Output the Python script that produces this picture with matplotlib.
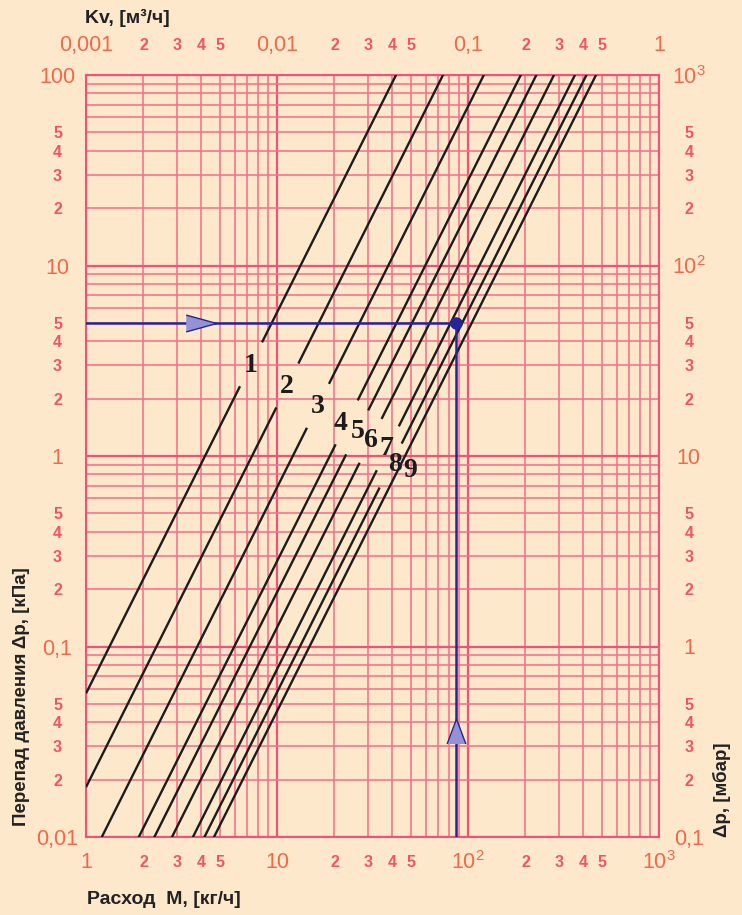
import numpy as np
import matplotlib
matplotlib.use("Agg")
import matplotlib.pyplot as plt

plt.rcParams['font.family'] = ['Liberation Sans', 'DejaVu Sans']
plt.rcParams['mathtext.fontset'] = 'custom'
plt.rcParams['mathtext.rm'] = 'Liberation Sans'
plt.rcParams['mathtext.it'] = 'Liberation Sans:italic'
plt.rcParams['mathtext.bf'] = 'Liberation Sans:bold'

# ---------------- data ----------------
curve_names = ['1', '2', '3', '4', '5', '6', '7', '8', '9']
curve_kv = [0.042, 0.074, 0.121, 0.189, 0.228, 0.282, 0.363, 0.417, 0.468]   # m3/h
label_dp = [3.0, 2.33, 1.83, 1.49, 1.34, 1.20, 1.09, 0.90, 0.84]             # kPa at label
label_mshift = [1.0, 1.0, 1.0, 0.93, 1.0, 1.0, 0.99, 1.05, 1.16]
curve_gap = [True, True, True, True, True, True, True, True, False]

example_m = 87.0      # kg/h
example_dp = 5.0      # kPa
arrow_h_m = 4.0
arrow_v_dp = 0.036

x_major = [1, 10, 100, 1000]
x_major_labels = ['1', '10', r'$\mathregular{10^{2}}$', r'$\mathregular{10^{3}}$']
kv_major = [0.001, 0.01, 0.1, 1]
kv_major_labels = ['0,001', '0,01', '0,1', '1']
y_major = [0.01, 0.1, 1, 10, 100]
y_major_labels = ['0,01', '0,1', '1', '10', '100']
mbar_major = [0.1, 1, 10, 100, 1000]
mbar_major_labels = ['0,1', '1', '10', r'$\mathregular{10^{2}}$', r'$\mathregular{10^{3}}$']
minor_digits = [2, 3, 4, 5, 6, 7, 8, 9]
minor_labels = ['2', '3', '4', '5', '', '', '', '']

# ---------------- style ----------------
BG = '#fde8cb'
GRID_MAJ = '#ee5475'
GRID_MIN = '#f2728a'
LBL_MAJ = '#f2694a'
LBL_MIN = '#ee5566'
BLUE = '#25259a'
TXT = '#222222'

fig = plt.figure(figsize=(7.42, 9.15), dpi=100, facecolor=BG)
ax = fig.add_axes([86/742, 78/915, 573/742, 762/915])
ax.set_facecolor(BG)
ax.set_xscale('log')
ax.set_yscale('log')
ax.set_xlim(1, 1000)
ax.set_ylim(0.01, 100)


def minors(decades):
    vals, labs = [], []
    for d in decades:
        for k, l in zip(minor_digits, minor_labels):
            vals.append(k * d)
            labs.append(l)
    return vals, labs


xmin_v, xmin_l = minors([1, 10, 100])
ymin_v, ymin_l = minors([0.01, 0.1, 1, 10])
kvmin_v, kvmin_l = minors([0.001, 0.01, 0.1])
mbmin_v, mbmin_l = minors([0.1, 1, 10, 100])

# grid
for v in x_major:
    ax.axvline(v, color=GRID_MAJ, lw=1.6, zorder=1)
for v in xmin_v:
    ax.axvline(v, color=GRID_MIN, lw=1.15, zorder=1)
for v in y_major:
    ax.axhline(v, color=GRID_MAJ, lw=1.6, zorder=1)
for v in ymin_v:
    ax.axhline(v, color=GRID_MIN, lw=1.15, zorder=1)

for s in ax.spines.values():
    s.set_color(GRID_MAJ)
    s.set_linewidth(1.5)

# curves: dp[kPa] = 100 * (Q/Kv)^2, Q = M/1000
M = np.logspace(0, 3, 600)
for name, kv, ldp, sh, gap in zip(curve_names, curve_kv, label_dp, label_mshift, curve_gap):
    dp = 100.0 * (M / 1000.0 / kv) ** 2
    if gap:
        g = 10 ** 0.11
        mask_lo = dp <= ldp / g
        mask_hi = dp >= ldp * g
        ax.plot(M[mask_lo], dp[mask_lo], color='#1c1c1c', lw=1.7, zorder=3, solid_capstyle='butt')
        ax.plot(M[mask_hi], dp[mask_hi], color='#1c1c1c', lw=1.7, zorder=3, solid_capstyle='butt')
    else:
        ax.plot(M, dp, color='#1c1c1c', lw=1.7, zorder=3)
    m_lab = 1000.0 * kv * np.sqrt(ldp / 100.0) * sh
    ax.text(m_lab, ldp, name, ha='center', va='center', fontsize=20, fontweight='bold',
            family=['Liberation Serif', 'DejaVu Serif'], color='#1c1c1c', zorder=4)

# example lines
ax.plot([1, example_m], [example_dp, example_dp], color=BLUE, lw=1.8, zorder=5)
ax.plot([example_m, example_m], [0.01, example_dp], color=BLUE, lw=1.8, zorder=5)
ax.plot([example_m], [example_dp], 'o', color=BLUE, ms=8, zorder=6)
tri_r = [(-1, -0.55), (1, 0), (-1, 0.55)]
tri_u = [(-0.75, -1), (0, 1), (0.75, -1)]
ax.plot([arrow_h_m], [example_dp], marker=tri_r, ms=22, mfc='#9393d4', mec=BLUE, mew=1.0, ls='none', zorder=7)
ax.plot([example_m], [arrow_v_dp], marker=tri_u, ms=18, mfc='#9393d4', mec=BLUE, mew=1.0, ls='none', zorder=7)

# bottom axis ticks
ax.set_xticks(x_major, labels=x_major_labels)
ax.set_xticks(xmin_v, labels=xmin_l, minor=True)
ax.tick_params(axis='x', which='both', length=0, pad=18.5)
ax.tick_params(axis='x', which='major', labelsize=15.5, labelcolor=LBL_MAJ)
ax.tick_params(axis='x', which='minor', labelsize=11.5, labelcolor=LBL_MIN)
for t in ax.get_xticklabels(minor=True):
    t.set_fontweight('bold')
for t in ax.get_xticklabels(which='both'):
    t.set_va('center')

# left axis ticks
ax.set_yticks(y_major, labels=y_major_labels)
ax.set_yticks(ymin_v, labels=ymin_l, minor=True)
ax.tick_params(axis='y', which='both', length=0, pad=20.5)
ax.tick_params(axis='y', which='major', labelsize=15.5, labelcolor=LBL_MAJ)
ax.tick_params(axis='y', which='minor', labelsize=11.5, labelcolor=LBL_MIN)
for t in ax.get_yticklabels(minor=True):
    t.set_fontweight('bold')
for t in ax.get_yticklabels(which='both'):
    t.set_ha('center')

# top axis (Kv)
axt = ax.twiny()
axt.set_xscale('log')
axt.set_xlim(0.001, 1)
axt.set_xticks(kv_major, labels=kv_major_labels)
axt.set_xticks(kvmin_v, labels=kvmin_l, minor=True)
axt.tick_params(axis='x', which='both', length=0, pad=21)
axt.tick_params(axis='x', which='major', labelsize=15.5, labelcolor=LBL_MAJ)
axt.tick_params(axis='x', which='minor', labelsize=11.5, labelcolor=LBL_MIN)
for t in axt.get_xticklabels(minor=True):
    t.set_fontweight('bold')
for t in axt.get_xticklabels(which='both'):
    t.set_va('center')
for s in axt.spines.values():
    s.set_visible(False)

# right axis (mbar)
axr = ax.twinx()
axr.set_yscale('log')
axr.set_ylim(0.1, 1000)
axr.set_yticks(mbar_major, labels=mbar_major_labels)
axr.set_yticks(mbmin_v, labels=mbmin_l, minor=True)
axr.tick_params(axis='y', which='both', length=0, pad=21.5)
axr.tick_params(axis='y', which='major', labelsize=15.5, labelcolor=LBL_MAJ)
axr.tick_params(axis='y', which='minor', labelsize=11.5, labelcolor=LBL_MIN)
for t in axr.get_yticklabels(minor=True):
    t.set_fontweight('bold')
for t in axr.get_yticklabels(which='both'):
    t.set_ha('center')
for s in axr.spines.values():
    s.set_visible(False)

# axis titles
fig.text(85/742, 1 - 18/915, 'Kv, [м³/ч]', ha='left', va='center', fontsize=14,
         fontweight='bold', color=TXT)
fig.text(87/742, 1 - 900/915, 'Расход  М, [кг/ч]', ha='left', va='center', fontsize=14,
         fontweight='bold', color=TXT)
fig.text(22/742, 1 - 697/915, 'Перепад давления Δp, [кПа]', ha='center', va='center',
         rotation=90, fontsize=13.5, fontweight='bold', color=TXT)
fig.text(722/742, 1 - 790/915, 'Δp, [мбар]', ha='center', va='center',
         rotation=90, fontsize=13.5, fontweight='bold', color=TXT)

fig.savefig('out.png', dpi=100, facecolor=BG)
